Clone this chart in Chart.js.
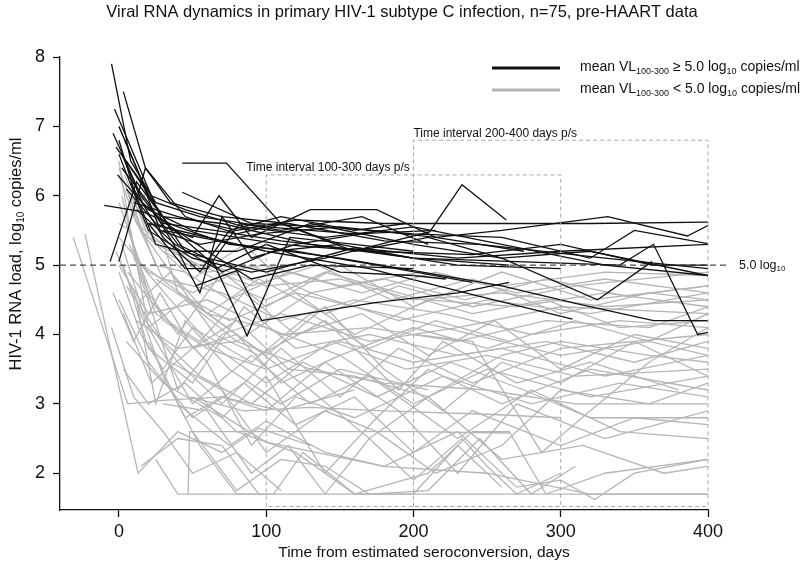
<!DOCTYPE html>
<html>
<head>
<meta charset="utf-8">
<script src="https://cdn.jsdelivr.net/npm/chart.js@4.4.1/dist/chart.umd.min.js"></script>
<style>
  html, body { margin: 0; background: #fff; }
  canvas { display: block; }
</style>
</head>
<body>
<canvas id="grafico" width="800" height="569"></canvas>
<script>
/* =========================================================
   Viral RNA dynamics, HIV-1 subtype C — spaghetti plot
   ========================================================= */

/* --- DATA: [days since seroconversion, log10 copies/ml] --- */

// mean VL 100-300 >= 5.0 (black)
const h01 = [[-5,7.9],[8,6.5],[25,5.9],[55,5.7],[100,5.55],[160,5.45],[215,5.5]];
const h02 = [[3,7.5],[18,6.4],[35,5.9],[70,5.7],[115,5.6],[180,5.35],[245,5.3],[330,5.1],[400,4.95]];
const h03 = [[-3,7.25],[12,6.5],[30,5.6],[65,5.5],[110,5.35],[170,5.2],[230,5.0],[300,4.95]];
const h04 = [[0,7.0],[14,6.3],[28,5.5],[55,5.3],[95,5.45],[150,5.55],[215,5.4],[275,5.2]];
const h05 = [[-2,6.7],[22,6.0],[45,5.8],[85,5.55],[140,5.4],[200,5.55],[260,5.3],[330,5.0],[400,4.85]];
const h06 = [[2,6.6],[16,5.9],[32,5.6],[60,5.2],[90,4.8],[130,5.0],[200,4.95]];
const h07 = [[-10,5.86],[16,5.77],[40,5.55],[75,5.3],[120,5.2],[175,5.0],[240,4.75]];
const h08 = [[-6,5.05],[12,6.2],[35,5.55],[70,4.9],[105,5.2],[150,5.3]];
const h09 = [[0,5.05],[18,6.4],[45,5.7],[80,5.45],[110,5.6],[150,5.3],[200,5.1],[265,5.0]];
const h10 = [[43,6.47],[73,6.47],[110,5.6],[160,5.2],[210,5.4],[260,5.1],[320,5.2],[400,4.85]];
const h11 = [[43,6.05],[90,5.6],[140,5.55],[200,5.45],[260,5.4],[320,5.1],[350,5.5],[400,5.31]];
const h12 = [[2,6.4],[20,5.9],[40,5.2],[55,4.6],[70,5.7],[90,5.1],[120,5.3],[180,5.5]];
const h13 = [[5,6.1],[25,5.6],[50,5.4],[68,6.0],[90,5.4],[130,5.8],[175,5.8],[215,5.4],[260,5.5],[332,5.7],[386,5.42],[400,5.57]];
const h14 = [[10,5.9],[40,5.7],[80,5.5],[120,5.65],[180,5.6],[247,5.6],[320,5.6],[400,5.62]];
const h15 = [[0,6.6],[20,5.5],[50,5.1],[90,4.9],[140,5.1],[211,5.48],[233,6.16],[263,5.65]];
const h16 = [[-4,6.9],[15,6.0],[40,5.3],[64,5.05],[87,3.98],[116,5.4],[160,5.3],[200,5.2]];
const h17 = [[52,4.7],[80,4.92],[97,4.2],[174,4.46],[230,4.6],[265,4.75]];
const h18 = [[30,5.5],[80,5.3],[150,5.1],[220,4.85],[260,4.7],[310,4.45],[363,4.2],[400,4.2]];
const h19 = [[20,5.6],[100,5.2],[170,4.95],[245,4.55],[308,4.22]];
const h20 = [[5,6.5],[30,5.7],[70,5.6],[130,5.3],[200,5.1],[270,5.05],[340,5.0],[363,5.3],[393,4.0],[400,4.03]];
const h21 = [[-1,6.3],[20,5.8],[50,5.5],[110,5.3],[170,5.2],[240,5.15],[300,5.3],[362,5.0],[400,5.0]];
const h22 = [[4,6.8],[20,6.0],[45,5.2],[80,5.2],[130,5.6],[200,5.3],[260,5.1],[325,4.5],[362,5.05]];
const h23 = [[8,6.2],[25,5.3],[60,5.1],[100,4.9],[160,5.25],[230,5.1],[300,5.2],[400,5.3]];
const h24 = [[0,6.8],[10,6.1],[30,5.4],[55,4.9],[75,5.5],[110,5.7],[160,5.5],[195,5.6]];
const h25 = [[12,5.8],[38,5.3],[66,4.95],[100,5.3],[150,4.9],[200,4.85],[222,4.8]];
const h26 = [[20,5.6],[45,4.95],[60,4.95],[82,5.6],[110,5.5],[165,5.7],[210,5.3]];

// mean VL 100-300 < 5.0 (grey)
const g01 = [[-31,5.4],[6,3.0],[30,3.05],[70,3.1],[110,2.9],[160,3.2]];
const g02 = [[-23,5.45],[13,2.0],[40,2.6],[70,2.3],[95,2.65],[130,2.4]];
const g03 = [[0,6.5],[10,5.2],[30,4.2],[60,3.8],[100,3.5],[150,3.9],[200,3.6],[260,3.8],[330,3.4],[400,3.7]];
const g04 = [[2,6.0],[15,4.8],[40,3.2],[70,4.0],[110,4.3],[170,3.9],[230,4.1],[300,4.4],[400,4.3]];
const g05 = [[0,5.6],[8,5.5],[20,4.1],[45,4.5],[80,3.9],[130,4.6],[190,4.2],[250,4.5],[320,4.3],[400,4.6]];
const g06 = [[4,6.3],[20,5.4],[50,5.1],[100,4.7],[150,4.8],[200,4.5],[260,4.6],[330,4.4],[400,4.5]];
const g07 = [[-2,5.2],[12,4.5],[25,3.0],[45,4.2],[75,3.5],[110,3.0],[150,3.5],[210,3.2]];
const g08 = [[6,4.9],[25,4.4],[60,3.6],[90,2.4],[120,3.1],[160,2.8],[220,3.4],[280,3.0],[340,3.3],[400,3.1]];
const g09 = [[47,1.7],[48,2.6],[120,2.6],[200,2.6],[265,2.58]];
const g10 = [[25,2.2],[40,1.7],[150,1.7],[300,1.7],[400,1.7]];
const g11 = [[10,4.6],[30,3.4],[55,2.4],[80,1.7],[105,1.7],[125,2.3],[160,1.7],[210,2.0],[240,2.6],[265,2.6],[290,1.7],[330,2.0],[400,2.2]];
const g12 = [[3,5.0],[20,3.8],[50,3.3],[85,4.4],[120,3.8],[170,4.0],[230,3.7],[290,3.9],[350,3.6],[400,3.9]];
const g13 = [[8,5.8],[30,4.8],[70,4.6],[110,4.2],[160,4.5],[220,4.3],[280,4.0],[340,4.2],[400,4.1]];
const g14 = [[15,5.5],[35,4.9],[60,4.3],[95,4.8],[140,4.3],[190,4.7],[240,4.4],[310,4.7],[400,4.9]];
const g15 = [[0,4.5],[20,3.6],[50,2.8],[85,3.3],[120,2.7],[160,3.1],[200,2.3],[240,2.9],[300,2.4],[350,2.8],[400,2.7]];
const g16 = [[5,3.9],[30,3.3],[70,2.8],[100,3.4],[140,2.0],[175,2.8],[210,3.5],[260,3.0],[320,3.5],[400,3.2]];
const g17 = [[0,6.4],[25,5.0],[45,4.9],[75,4.5],[115,4.9],[165,4.6],[215,4.9],[270,4.6],[330,4.8],[400,4.6]];
const g18 = [[12,4.2],[40,3.8],[80,3.9],[130,3.5],[180,3.3],[250,3.2],[310,3.0],[400,3.0]];
const g19 = [[20,3.9],[45,2.8],[70,3.1],[100,2.9],[140,3.6],[190,2.9],[230,2.0],[270,3.0],[330,2.5],[400,2.9]];
const g20 = [[48,3.1],[85,2.9],[130,2.95],[180,2.9],[250,2.85],[300,2.8]];
const g21 = [[50,3.1],[100,2.45],[180,2.1],[250,2.0],[320,1.7],[400,1.7]];
const g22 = [[30,3.0],[60,2.9],[90,2.0],[115,2.4],[140,1.7],[170,2.5],[200,1.9],[233,2.5],[250,2.1],[270,1.7],[300,2.0]];
const g23 = [[5,5.6],[20,4.6],[40,4.0],[70,4.9],[100,4.4],[150,5.0],[200,4.4],[260,4.9],[320,4.5],[400,4.7]];
const g24 = [[0,5.9],[15,5.0],[35,4.5],[60,3.9],[100,3.3],[145,3.9],[195,3.5],[250,3.7],[310,3.4],[400,3.5]];
const g25 = [[2,5.3],[18,4.2],[40,3.6],[70,3.0],[110,3.8],[150,3.1],[190,3.8],[240,3.3],[300,3.8],[400,4.0]];
const g26 = [[25,4.8],[60,4.3],[100,4.1],[150,3.7],[200,4.1],[250,3.8],[310,4.2],[360,3.9],[400,4.3]];
const g27 = [[0,4.9],[15,4.0],[30,3.5],[50,4.1],[90,3.6],[130,4.3],[170,3.8],[215,4.2],[265,3.9]];
const g28 = [[60,4.3],[100,3.7],[140,4.4],[180,3.5],[220,2.9],[260,3.6],[300,3.3],[350,3.9],[400,3.4]];
const g29 = [[10,5.1],[35,4.7],[80,4.0],[130,3.2],[170,2.5],[210,3.1],[260,2.2],[315,2.4],[370,2.0],[400,2.1]];
const g30 = [[-5,4.1],[10,3.1],[30,2.6],[50,2.0],[80,2.3],[110,1.75]];
const g31 = [[3,3.5],[20,3.0],[45,3.3],[80,2.6],[120,2.3],[160,1.7],[200,1.7],[230,2.4],[260,1.8]];
const g32 = [[40,3.0],[75,2.4],[100,2.75],[140,2.3],[180,2.1],[230,2.6],[270,1.8],[300,1.9],[323,1.62],[350,2.0],[400,2.2]];
const g33 = [[0,6.3],[12,5.6],[30,5.3],[60,4.9],[100,5.0],[150,4.7],[205,4.9],[260,4.7],[330,4.9],[400,4.85]];
const g34 = [[7,5.3],[25,4.3],[55,3.9],[85,4.6],[120,4.0],[165,4.3],[210,3.7],[255,4.2],[300,3.5],[350,4.0],[400,3.8]];
const g35 = [[15,4.5],[35,4.9],[65,4.0],[95,3.7],[140,4.2],[190,3.2],[220,3.9],[270,3.3],[320,3.6],[380,3.2]];
const g36 = [[0,5.0],[20,4.3],[60,4.5],[110,4.0],[170,4.1],[230,3.9],[290,4.2],[360,4.1],[400,4.4]];
const g37 = [[30,5.2],[65,4.8],[100,4.5],[140,4.9],[190,4.6],[240,4.3],[290,4.5],[340,4.1],[400,4.2]];
const g38 = [[8,6.0],[25,5.3],[55,5.0],[90,4.7],[135,5.0],[185,4.5],[240,4.8],[300,4.3],[360,4.6],[400,4.5]];
const g39 = [[5,4.7],[30,3.9],[55,3.4],[90,3.0],[125,3.6],[175,3.1],[225,3.6],[275,3.2],[320,2.8],[400,2.8]];
const g40 = [[50,2.6],[80,1.75],[110,2.2],[140,2.1],[170,1.7],[210,1.75],[245,2.5],[280,1.7],[310,2.1]];
const g41 = [[10,5.7],[20,6.1],[40,4.6],[75,4.2],[120,4.6],[160,4.0],[210,4.5],[270,4.4],[330,4.6],[400,4.4]];
const g42 = [[-4,4.6],[10,3.9],[28,4.6],[50,3.8],[80,4.0],[110,3.3],[150,3.7],[200,3.0],[250,3.5],[320,3.1],[400,3.4]];
const g43 = [[20,4.1],[50,3.0],[90,3.7],[130,3.0],[170,3.4],[230,2.5],[280,3.2],[340,2.6],[400,2.5]];
const g44 = [[35,3.6],[70,3.2],[100,2.3],[140,2.9],[175,2.6],[215,2.0],[260,2.4],[300,3.2],[360,3.0],[400,3.3]];
const g45 = [[0,5.4],[20,4.9],[50,4.6],[90,5.0],[130,4.6],[180,4.8],[235,4.5],[290,4.8],[345,4.55],[400,4.7]];
const g46 = [[3,4.3],[22,3.3],[50,3.8],[80,4.2],[115,3.5],[160,3.4],[210,3.1],[260,3.7],[300,3.9],[360,3.7],[400,3.6]];
const g47 = [[15,2.1],[40,2.5],[70,2.4],[95,1.7]];
const g48 = [[200,4.0],[240,3.9],[287,2.3],[320,2.9],[360,3.6],[400,4.1]];
const g49 = [[5,6.1],[15,5.5],[30,5.2],[50,4.8],[85,5.3],[120,4.6],[180,4.3],[240,4.0],[300,3.7],[360,3.9],[400,3.7]];

const highGroup = [h01,h02,h03,h04,h05,h06,h07,h08,h09,h10,h11,h12,h13,
                   h14,h15,h16,h17,h18,h19,h20,h21,h22,h23,h24,h25,h26];
const lowGroup  = [g01,g02,g03,g04,g05,g06,g07,g08,g09,g10,g11,g12,g13,g14,g15,g16,
                   g17,g18,g19,g20,g21,g22,g23,g24,g25,g26,g27,g28,g29,g30,g31,g32,
                   g33,g34,g35,g36,g37,g38,g39,g40,g41,g42,g43,g44,g45,g46,g47,g48,g49];

const xTicks = [0, 100, 200, 300, 400];
const yTicks = [2, 3, 4, 5, 6, 7, 8];
const threshold = 5.0;
const intervalFrom  = [100, 200];
const intervalTo    = [300, 400];
const intervalTop   = [6.3, 6.8];
const intervalLabel = ['Time interval 100-300 days p/s', 'Time interval 200-400 days p/s'];

/* --- STYLE --- */

const FONT = '"Liberation Sans", Arial, sans-serif';
const BLACK = '#111111';
const GREY = '#b5b5b5';
const LABEL_DX = [-20, 0];   // label offset from box left edge, px

function serie(pts, cor) {
  return {
    data: pts.map(([x, y]) => ({ x, y })),
    borderColor: cor,
    borderWidth: 1.3,
    pointRadius: 0,
    fill: false,
    tension: 0,
  };
}

// first dataset is painted last, so black goes first to sit on top
const datasets = [
  ...highGroup.map(p => serie(p, BLACK)),
  ...lowGroup.map(p => serie(p, GREY)),
];

/* --- TEXT WITH SUBSCRIPTS --- */

function medirRico(ctx, partes, tam) {
  let w = 0;
  partes.forEach(p => {
    ctx.font = (p.sub ? Math.round(tam * 0.62) : tam) + 'px ' + FONT;
    w += ctx.measureText(p.t).width;
  });
  return w;
}

function textoRico(ctx, partes, x, y, tam) {
  ctx.textBaseline = 'middle';
  ctx.textAlign = 'left';
  let cx = x;
  partes.forEach(p => {
    const t = p.sub ? Math.round(tam * 0.62) : tam;
    ctx.font = t + 'px ' + FONT;
    ctx.fillText(p.t, cx, p.sub ? y + tam * 0.33 : y);
    cx += ctx.measureText(p.t).width;
  });
}

/* --- PLUGIN: boxes, threshold, legend, titles --- */

const extras = {
  id: 'extras',
  afterDatasetsDraw(chart) {
    const { ctx, scales: { x, y } } = chart;
    ctx.save();

    // dashed interval boxes
    ctx.strokeStyle = '#a8a8a8';
    ctx.lineWidth = 1;
    ctx.setLineDash([4, 3]);
    intervalFrom.forEach((from, i) => {
      const x0 = x.getPixelForValue(from);
      const x1 = x.getPixelForValue(intervalTo[i]);
      const yt = y.getPixelForValue(intervalTop[i]);
      const yb = y.getPixelForValue(1.52);
      ctx.beginPath();
      ctx.moveTo(x0, yb); ctx.lineTo(x0, yt); ctx.lineTo(x1, yt); ctx.lineTo(x1, yb);
      ctx.lineTo(x0, yb);
      ctx.stroke();
    });

    // 5.0 log10 line
    const y5 = y.getPixelForValue(threshold);
    ctx.strokeStyle = '#222';
    ctx.setLineDash([6, 4]);
    ctx.beginPath();
    ctx.moveTo(x.left, y5);
    ctx.lineTo(730, y5);
    ctx.stroke();
    ctx.setLineDash([]);

    ctx.fillStyle = '#111';
    textoRico(ctx, [{ t: '5.0 log' }, { t: '10', sub: true }], 739, y5, 12.5);

    // interval labels
    ctx.font = '12px ' + FONT;
    ctx.textBaseline = 'middle';
    ctx.textAlign = 'left';
    intervalFrom.forEach((from, i) => {
      const xl = x.getPixelForValue(from) + LABEL_DX[i];
      const yt = y.getPixelForValue(intervalTop[i]);
      ctx.fillText(intervalLabel[i], xl, yt - 7);
    });

    // legend
    ctx.lineWidth = 3;
    [[68, BLACK, '\u2265'], [90, GREY, '<']].forEach(([ly, cor, sinal]) => {
      ctx.strokeStyle = cor;
      ctx.beginPath();
      ctx.moveTo(492, ly);
      ctx.lineTo(560, ly);
      ctx.stroke();
      textoRico(ctx, [
        { t: 'mean VL' }, { t: '100-300', sub: true },
        { t: ' ' + sinal + ' 5.0 log' }, { t: '10', sub: true }, { t: ' copies/ml' },
      ], 580, ly - 1, 14);
    });

    // title
    ctx.font = '16.5px ' + FONT;
    ctx.textAlign = 'center';
    ctx.textBaseline = 'middle';
    ctx.fillText('Viral RNA dynamics in primary HIV-1 subtype C infection, n=75, pre-HAART data', 402, 12);

    // x axis title
    ctx.font = '15.5px ' + FONT;
    ctx.fillText('Time from estimated seroconversion, days', 424, 553);

    // y axis title (rotated, with subscript)
    const partesY = [{ t: 'HIV-1 RNA load, log' }, { t: '10', sub: true }, { t: ' copies/ml' }];
    const wY = medirRico(ctx, partesY, 16.5);
    ctx.translate(16, 254);
    ctx.rotate(-Math.PI / 2);
    textoRico(ctx, partesY, -wY / 2, 0, 16.5);

    ctx.restore();
  },
};

/* --- CHART --- */

new Chart(document.getElementById('grafico'), {
  type: 'line',
  data: { datasets },
  plugins: [extras],
  options: {
    responsive: false,
    animation: false,
    devicePixelRatio: 1,
    layout: { padding: { left: 0, right: 92, top: 57, bottom: 0 } },
    plugins: {
      legend: { display: false },
      title: { display: false },
      tooltip: { enabled: false },
    },
    scales: {
      x: {
        type: 'linear',
        min: -40,
        max: 400,
        afterBuildTicks: s => { s.ticks = xTicks.map(v => ({ value: v })); },
        afterFit: s => { s.height = 59; },
        border: { color: '#111', width: 1.3 },
        grid: { drawOnChartArea: false, tickLength: 7, color: '#111', tickWidth: 1.3 },
        ticks: { color: '#111', padding: 4, font: { family: FONT, size: 18 } },
      },
      y: {
        type: 'linear',
        min: 1.47,
        max: 8,
        afterBuildTicks: s => { s.ticks = yTicks.map(v => ({ value: v })); },
        afterFit: s => { s.width = 60; },
        border: { color: '#111', width: 1.3 },
        grid: { drawOnChartArea: false, tickLength: 7, color: '#111', tickWidth: 1.3 },
        ticks: { color: '#111', padding: 8, font: { family: FONT, size: 18 } },
      },
    },
  },
});
</script>
</body>
</html>
